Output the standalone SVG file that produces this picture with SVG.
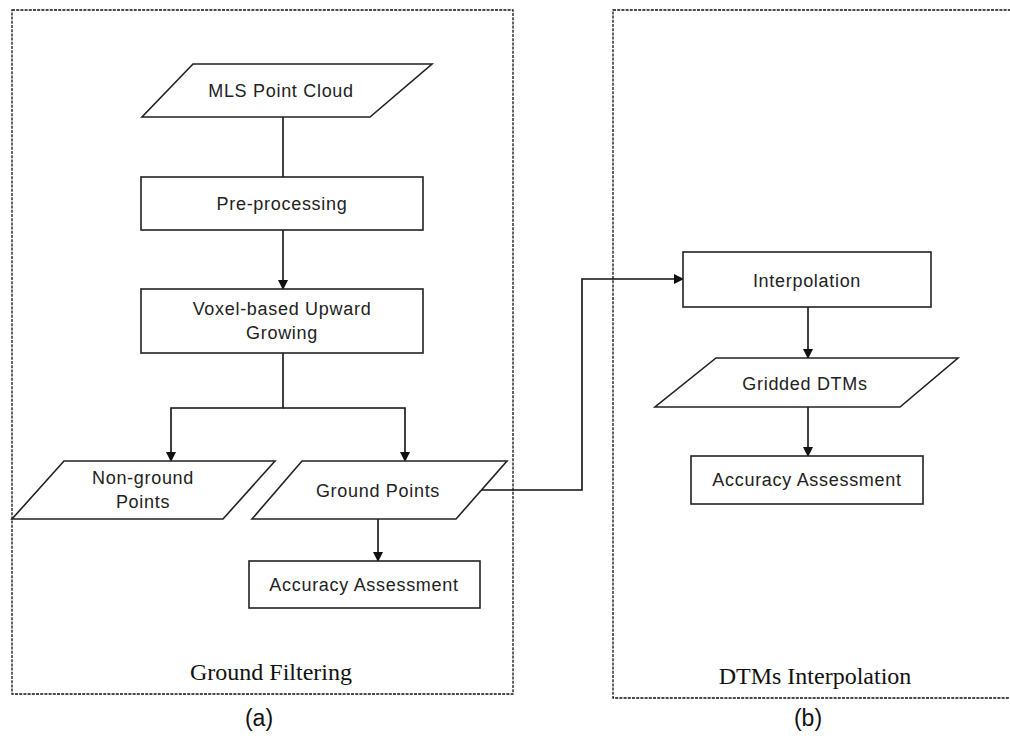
<svg xmlns="http://www.w3.org/2000/svg" width="1010" height="740" viewBox="0 0 1010 740">
<style>
.frame{fill:none;stroke:#111;stroke-width:1.3;stroke-dasharray:3 1.2}
.shape{fill:#fff;stroke:#222;stroke-width:1.6}
.conn{fill:none;stroke:#111;stroke-width:1.6}
.t{font-family:"Liberation Sans",Arial,sans-serif;font-size:18px;letter-spacing:0.7px;fill:#222;text-anchor:middle;dominant-baseline:central}
.cap{font-family:"Liberation Serif","Times New Roman",serif;font-size:24px;fill:#111;text-anchor:middle}
.sub{font-family:"Liberation Sans",Arial,sans-serif;font-size:23px;fill:#111;text-anchor:middle}
</style>
<defs>
<marker id="ah" markerWidth="10" markerHeight="10" refX="9" refY="5" orient="auto" markerUnits="userSpaceOnUse">
<path d="M0,0 L10,5 L0,10 Z" fill="#111"/>
</marker>
</defs>
<g id="frame-a">
<rect class="frame" x="12" y="10" width="501" height="684"/>
<text class="cap" x="271" y="680">Ground Filtering</text>
<text class="sub" x="259" y="726">(a)</text>
</g>
<g id="frame-b">
<rect class="frame" x="613" y="10" width="402" height="688"/>
<text class="cap" x="815" y="684">DTMs Interpolation</text>
<text class="sub" x="808" y="726">(b)</text>
</g>
<g id="connectors">
<path class="conn" d="M283,117 V177"/>
<path class="conn" d="M283,230 V289" marker-end="url(#ah)"/>
<path class="conn" d="M283,353 V408 H171 V461" marker-end="url(#ah)"/>
<path class="conn" d="M283,408 H405 V461" marker-end="url(#ah)"/>
<path class="conn" d="M378,519 V561" marker-end="url(#ah)"/>
<path class="conn" d="M482,490 H582 V279 H683" marker-end="url(#ah)"/>
<path class="conn" d="M808,307 V358" marker-end="url(#ah)"/>
<path class="conn" d="M808,407 V456" marker-end="url(#ah)"/>
</g>
<g id="mls">
<polygon class="shape" points="193,64 432,64 370,117 142,117"/>
<text class="t" x="281" y="91">MLS Point Cloud</text>
</g>
<g id="preprocessing">
<rect class="shape" x="141" y="177" width="282" height="53"/>
<text class="t" x="282" y="204">Pre-processing</text>
</g>
<g id="voxel">
<rect class="shape" x="141" y="289" width="282" height="64"/>
<text class="t" x="282" y="309">Voxel-based Upward</text>
<text class="t" x="282" y="333">Growing</text>
</g>
<g id="nonground">
<polygon class="shape" points="64,461 275,461 223,519 12,519"/>
<text class="t" x="143" y="478">Non-ground</text>
<text class="t" x="143" y="502">Points</text>
</g>
<g id="ground">
<polygon class="shape" points="302,461 507,461 456,519 252,519"/>
<text class="t" x="378" y="491">Ground Points</text>
</g>
<g id="accuracy-a">
<rect class="shape" x="249" y="561" width="231" height="47"/>
<text class="t" x="364" y="585">Accuracy Assessment</text>
</g>
<g id="interpolation">
<rect class="shape" x="683" y="252" width="248" height="55"/>
<text class="t" x="807" y="281">Interpolation</text>
</g>
<g id="gridded">
<polygon class="shape" points="716,358 958,358 900,407 655,407"/>
<text class="t" x="805" y="384">Gridded DTMs</text>
</g>
<g id="accuracy-b">
<rect class="shape" x="691" y="456" width="232" height="48"/>
<text class="t" x="807" y="480">Accuracy Assessment</text>
</g>
</svg>
